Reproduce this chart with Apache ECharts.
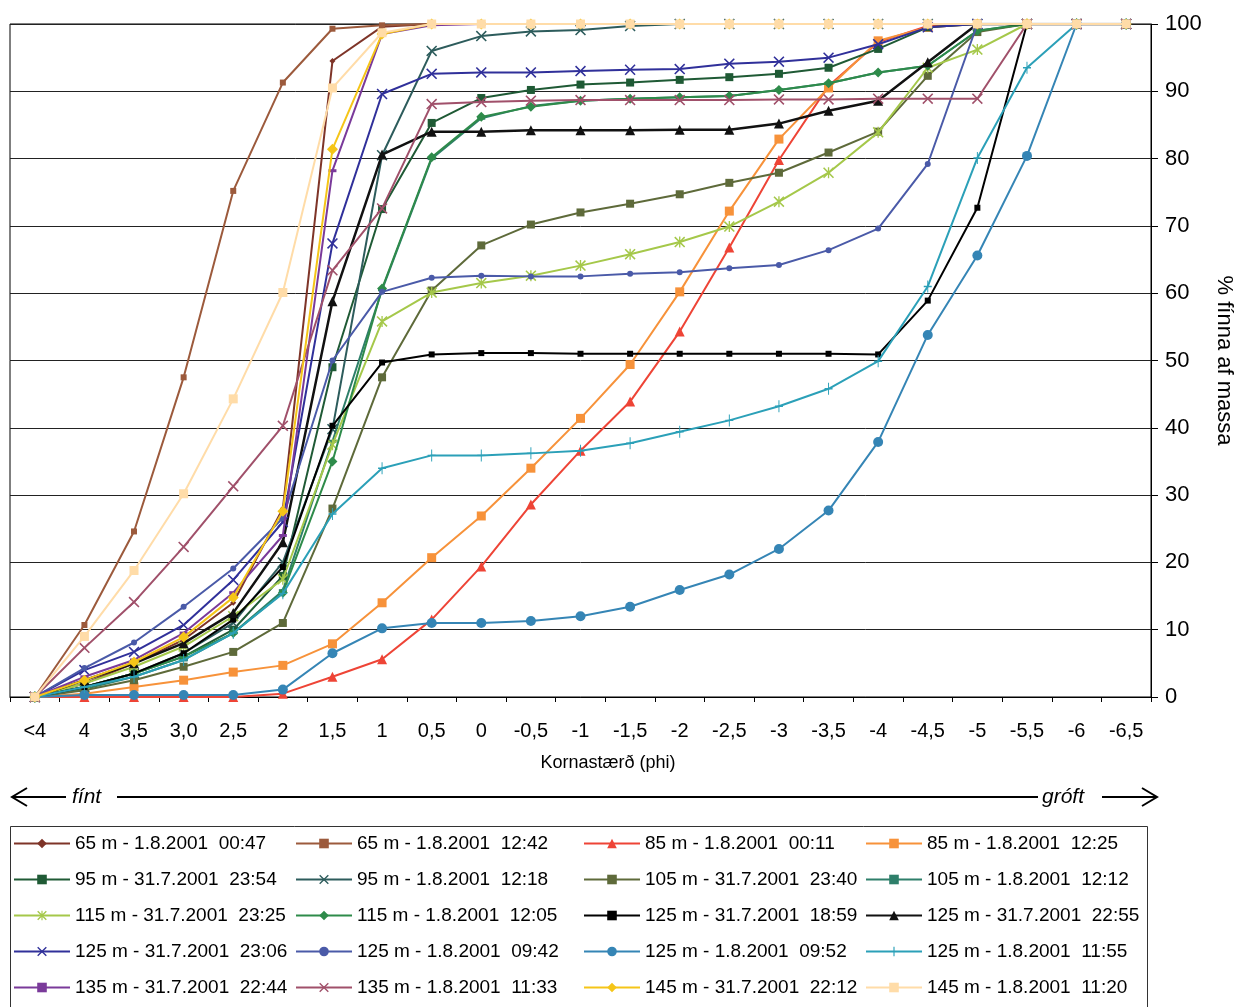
<!DOCTYPE html>
<html><head><meta charset="utf-8">
<script src="https://cdn.jsdelivr.net/npm/echarts@6/dist/echarts.min.js"></script>
<style>html,body{margin:0;padding:0;background:#fff}#c{width:1234px;height:1007px}</style>
</head><body><div id="c"></div>
<script>
// ---------- DATA ----------
const categories = ['<4','4','3,5','3,0','2,5','2','1,5','1','0,5','0','-0,5','-1','-1,5','-2','-2,5','-3','-3,5','-4','-4,5','-5','-5,5','-6','-6,5'];
const yTicks = [0,10,20,30,40,50,60,70,80,90,100];

const s65_0047 = [0, 2, 5, 8.5, 14, 28, 94.5, 99.6, 100, 100, 100, 100, 100, 100, 100, 100, 100, 100, 100, 100, 100, 100, 100];
const s65_1242 = [0, 10.7, 24.6, 47.5, 75.2, 91.3, 99.3, 99.8, 100, 100, 100, 100, 100, 100, 100, 100, 100, 100, 100, 100, 100, 100, 100];
const s85_0011 = [0, 0, 0, 0, 0, 0.5, 3, 5.6, 11.5, 19.4, 28.6, 36.6, 43.9, 54.3, 66.8, 79.8, 90.8, 97.3, 99.7, 100, 100, 100, 100];
const s85_1225 = [0, 0.5, 1.5, 2.5, 3.7, 4.7, 7.9, 14, 20.7, 26.9, 34, 41.4, 49.4, 60.2, 72.2, 82.9, 90.5, 97.5, 99.5, 100, 100, 100, 100];
const s95_2354 = [0, 1.5, 3.5, 6, 10, 18, 49, 72.5, 85.3, 89, 90.2, 91, 91.3, 91.7, 92.1, 92.6, 93.5, 96.3, 99.5, 100, 100, 100, 100];
const s95_1218 = [0, 1.5, 3.5, 6.5, 11, 20, 39.8, 80.5, 96, 98.2, 98.9, 99.1, 99.7, 100, 100, 100, 100, 100, 100, 100, 100, 100, 100];
const s105_2340 = [0, 1, 2.5, 4.5, 6.7, 11, 28, 47.5, 60.4, 67.1, 70.2, 72, 73.3, 74.7, 76.4, 77.9, 80.9, 84, 92.3, 98.8, 100, 100, 100];
const s105_1212 = [0, 1.2, 3, 5.5, 9.5, 15.8, 38, 60.5, 80, 86, 87.8, 88.6, 88.9, 89.1, 89.3, 90.2, 91.2, 92.8, 93.8, 99, 100, 100, 100];
const s115_2325 = [0, 2, 4.5, 7.5, 12, 17.5, 37.5, 55.8, 60.1, 61.5, 62.6, 64.1, 65.8, 67.6, 69.9, 73.6, 77.9, 83.9, 93.5, 96.2, 100, 100, 100];
const s115_1205 = [0, 1.5, 3.5, 6, 9.5, 15.5, 35, 60.7, 80.2, 86.2, 87.7, 88.6, 88.9, 89.1, 89.3, 90.2, 91.2, 92.8, 93.8, 99, 100, 100, 100];
const s125_1859 = [0, 1.5, 3.5, 6.5, 11.5, 19.3, 40.3, 49.7, 50.9, 51.1, 51.1, 51, 51, 51, 51, 51, 51, 50.9, 58.9, 72.7, 100, 100, 100];
const s125_2255 = [0, 2.5, 5, 8, 12.5, 23, 58.8, 80.6, 84, 84, 84.2, 84.2, 84.2, 84.3, 84.3, 85.2, 87.1, 88.6, 94.3, 100, 100, 100, 100];
const s125_2306 = [0, 4, 6.7, 10.7, 17.4, 26, 67.4, 89.6, 92.6, 92.8, 92.8, 93, 93.2, 93.3, 94.1, 94.4, 95, 97, 99.5, 100, 100, 100, 100];
const s125_0942 = [0, 4.3, 8.1, 13.4, 19.1, 26.6, 50, 60.2, 62.3, 62.6, 62.5, 62.5, 62.9, 63.1, 63.7, 64.2, 66.4, 69.6, 79.2, 100, 100, 100, 100];
const s125_0952 = [0, 0.3, 0.3, 0.3, 0.3, 1.1, 6.5, 10.2, 11, 11, 11.3, 12, 13.4, 15.9, 18.2, 22, 27.7, 37.9, 53.8, 65.6, 80.4, 100, 100];
const s125_1155 = [0, 1.5, 3, 5.5, 9.5, 15.4, 27.2, 34, 35.9, 35.9, 36.2, 36.6, 37.7, 39.4, 41.1, 43.2, 45.8, 49.9, 61, 80.1, 93.5, 100, 100];
const s135_2244 = [0, 3, 5.5, 9.5, 15.5, 24, 78.2, 98.5, 99.8, 100, 100, 100, 100, 100, 100, 100, 100, 100, 100, 100, 100, 100, 100];
const s135_1133 = [0, 7.3, 14.1, 22.3, 31.3, 40.3, 63.4, 72.6, 88.1, 88.4, 88.6, 88.7, 88.7, 88.7, 88.7, 88.8, 88.8, 88.9, 88.9, 88.9, 100, 100, 100];
const s145_2212 = [0, 2.5, 5.2, 8.9, 14.8, 27.6, 81.4, 98.5, 100, 100, 100, 100, 100, 100, 100, 100, 100, 100, 100, 100, 100, 100, 100];
const s145_1120 = [0, 9, 18.8, 30.2, 44.3, 60.1, 90.5, 98.7, 100, 100, 100, 100, 100, 100, 100, 100, 100, 100, 100, 100, 100, 100, 100];

const seriesNames = [
  '65 m - 1.8.2001  00:47','65 m - 1.8.2001  12:42','85 m - 1.8.2001  00:11','85 m - 1.8.2001  12:25',
  '95 m - 31.7.2001  23:54','95 m - 1.8.2001  12:18','105 m - 31.7.2001  23:40','105 m - 1.8.2001  12:12',
  '115 m - 31.7.2001  23:25','115 m - 1.8.2001  12:05','125 m - 31.7.2001  18:59','125 m - 31.7.2001  22:55',
  '125 m - 31.7.2001  23:06','125 m - 1.8.2001  09:42','125 m - 1.8.2001  09:52','125 m - 1.8.2001  11:55',
  '135 m - 31.7.2001  22:44','135 m - 1.8.2001  11:33','145 m - 31.7.2001  22:12','145 m - 1.8.2001  11:20'
];
const seriesValues = [s65_0047,s65_1242,s85_0011,s85_1225,s95_2354,s95_1218,s105_2340,s105_1212,
  s115_2325,s115_1205,s125_1859,s125_2255,s125_2306,s125_0942,s125_0952,s125_1155,
  s135_2244,s135_1133,s145_2212,s145_1120];

// ---------- STYLE ----------
const X = 'path://M0,1L1,0L5,4L9,0L10,1L6,5L10,9L9,10L5,6L1,10L0,9L4,5Z';
const STAR = 'path://M0,1L1,0L5,4L9,0L10,1L6,5L10,9L9,10L5,6L1,10L0,9L4,5Z M4.4,0L5.6,0L5.6,10L4.4,10Z';
const PLUS = 'path://M4.4,0L5.6,0L5.6,4.4L10,4.4L10,5.6L5.6,5.6L5.6,10L4.4,10L4.4,5.6L0,5.6L0,4.4L4.4,4.4Z';
const DASH = 'path://M0,0L10,0L10,3L0,3Z';
const colors = ['#7E3428','#9C5A3C','#EE4436','#F7923A','#1F5A35','#2D5C5C','#5E6A3A','#2E7F6A',
  '#A5C84A','#2E8B4A','#000000','#111111','#30309A','#4A5AA8','#3585B5','#2BA0B8',
  '#7A3A9A','#A0506A','#F5C518','#FFDCA8'];
const symbols = ['diamond','rect','triangle','rect','rect',X,'rect',DASH,
  STAR,'diamond','rect','triangle',X,'circle','circle',PLUS,
  DASH,X,'diamond','rect'];
const symSizes = [6,6,10,9,8,11,8,[8,3],11,10,6,10,11,6,10,[8,12],[8,3],11,11,9];
const lineWidths = [2,2,2,2,2,2,2,2,2,2,2,2.5,2,2,2,2,2,2,2,2];
const zOrder = [2,3,4,5,7,8,9,6,10,11,12,13,14,15,16,17,18,19,20,21];

const FONT = '"Liberation Sans", Arial, sans-serif';

const series = seriesValues.map((vals, i) => ({
  name: seriesNames[i],
  type: 'line',
  data: vals,
  symbol: symbols[i],
  symbolSize: symSizes[i],
  showAllSymbol: true,
  lineStyle: { color: colors[i], width: lineWidths[i] },
  itemStyle: { color: colors[i], borderWidth: 0 },
  emphasis: { disabled: true },
  z: zOrder[i]
}));

const legendCols = [0,1,2,3].map(c => seriesNames.filter((_, i) => i % 4 === c));
const legendLefts = [13, 295, 583, 865];

const chart = echarts.init(document.getElementById('c'), null, { renderer: 'canvas' });
chart.setOption({
  animation: false,
  backgroundColor: '#fff',
  textStyle: { fontFamily: FONT },
  grid: { left: 10, right: 83, top: 24, bottom: 310, show: true, borderColor: '#000', borderWidth: 1,
          backgroundColor: 'transparent', containLabel: false, outerBoundsMode: 'none' },
  xAxis: {
    type: 'category', data: categories, boundaryGap: true,
    axisLine: { lineStyle: { color: '#000', width: 1 } },
    axisTick: { show: true, alignWithLabel: false, length: 5, lineStyle: { color: '#000' }, interval: 0 },
    axisLabel: { color: '#000', fontSize: 20, fontFamily: FONT, margin: 24, interval: 0 },
    splitLine: { show: false }
  },
  yAxis: {
    type: 'value', min: yTicks[0], max: yTicks[yTicks.length - 1], interval: 10, position: 'right',
    axisLine: { show: true, lineStyle: { color: '#000', width: 1 } },
    axisTick: { show: true, length: 7, lineStyle: { color: '#000' } },
    axisLabel: { color: '#000', fontSize: 22, fontFamily: FONT, margin: 14 },
    splitLine: { show: true, lineStyle: { color: '#222', width: 1 } },
    name: '% fínna af massa', nameLocation: 'middle', nameRotate: -90, nameGap: 56,
    nameTextStyle: { color: '#000', fontSize: 22, fontFamily: FONT }
  },
  legend: legendCols.map((col, c) => ({
    data: col, orient: 'vertical', left: legendLefts[c], top: 834, padding: 0,
    itemWidth: 56, itemHeight: 12, itemGap: 17, selectedMode: false,
    textStyle: { color: '#000', fontSize: 19, fontFamily: FONT }
  })),
  graphic: [
    { type: 'text', x: 608, y: 763, style: { text: 'Kornastærð (phi)', font: '18px ' + FONT, fill: '#000', textAlign: 'center', textVerticalAlign: 'middle' } },
    { type: 'line', shape: { x1: 12, y1: 797, x2: 66, y2: 797 }, style: { stroke: '#000', lineWidth: 2 } },
    { type: 'polyline', shape: { points: [[27,788],[12,797],[27,806]] }, style: { stroke: '#000', lineWidth: 2, fill: null } },
    { type: 'text', x: 72, y: 797, style: { text: 'fínt', font: 'italic 21px ' + FONT, fill: '#000', textVerticalAlign: 'middle' } },
    { type: 'line', shape: { x1: 117, y1: 797, x2: 1038, y2: 797 }, style: { stroke: '#000', lineWidth: 2 } },
    { type: 'text', x: 1042, y: 797, style: { text: 'gróft', font: 'italic 21px ' + FONT, fill: '#000', textVerticalAlign: 'middle' } },
    { type: 'line', shape: { x1: 1102, y1: 797, x2: 1157, y2: 797 }, style: { stroke: '#000', lineWidth: 2 } },
    { type: 'polyline', shape: { points: [[1142,788],[1157,797],[1142,806]] }, style: { stroke: '#000', lineWidth: 2, fill: null } },
    { type: 'rect', shape: { x: 10.5, y: 826.5, width: 1137, height: 200 }, style: { stroke: '#333', lineWidth: 1, fill: null }, z: -1 }
  ],
  series: series
});
</script></body></html>
